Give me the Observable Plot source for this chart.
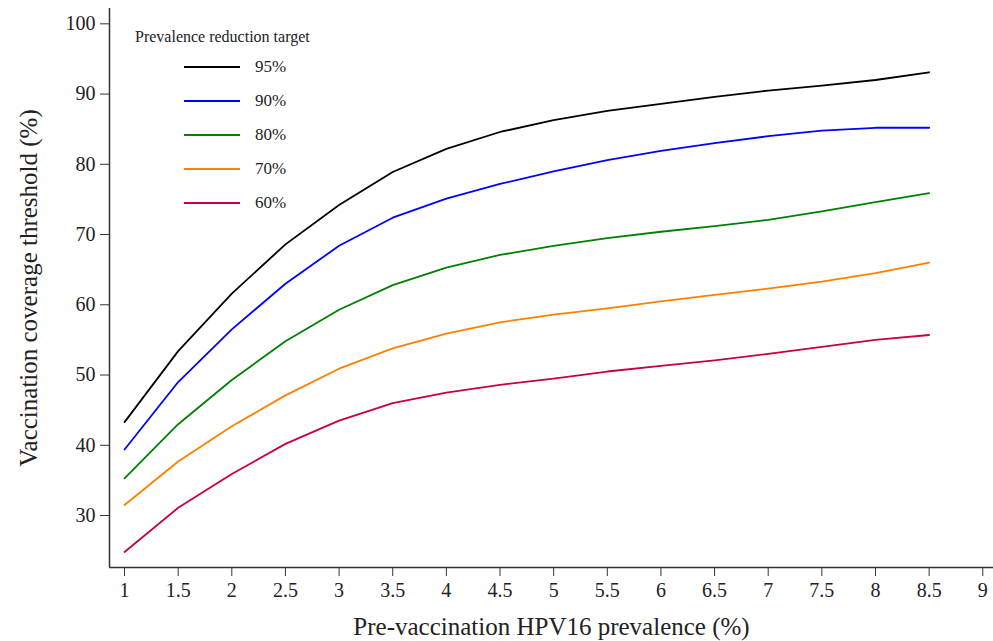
<!DOCTYPE html>
<html>
<head>
<meta charset="utf-8">
<script src="https://cdn.jsdelivr.net/npm/d3@7"></script>
<script src="https://cdn.jsdelivr.net/npm/@observablehq/plot@0.6"></script>
<style>
  html, body { margin: 0; padding: 0; background: #fff; }
  #wrap { position: relative; width: 993px; height: 641px; font-family: "Liberation Serif", "DejaVu Serif", serif; color: #222; }
  #wrap svg text { font-family: "Liberation Serif", "DejaVu Serif", serif; }
  #legend { position: absolute; left: 135px; top: 28px; font-size: 16px; }
  #legend .title { position: absolute; left: 0; top: 0; white-space: nowrap; }
  #legend .row { position: absolute; left: 49px; white-space: nowrap; height: 20px; }
  #legend .row svg { position: absolute; left: 0; top: 0; }
  #legend .row span { position: absolute; left: 71px; top: 0; line-height: 20px; font-size: 17px; }
</style>
</head>
<body>
<div id="wrap"></div>
<script>
// Pre-vaccination HPV16 prevalence (%)
const prevalence = [1, 1.5, 2, 2.5, 3, 3.5, 4, 4.5, 5, 5.5, 6, 6.5, 7, 7.5, 8, 8.5];
// Vaccination coverage threshold (%) per prevalence reduction target
const target95 = [43.3, 53.4, 61.6, 68.6, 74.2, 78.9, 82.2, 84.6, 86.3, 87.6, 88.6, 89.6, 90.5, 91.2, 92.0, 93.1];
const target90 = [39.4, 49.0, 56.5, 63.0, 68.4, 72.4, 75.1, 77.2, 79.0, 80.6, 81.9, 83.0, 84.0, 84.8, 85.2, 85.2];
const target80 = [35.3, 43.0, 49.3, 54.8, 59.3, 62.8, 65.3, 67.1, 68.4, 69.5, 70.4, 71.2, 72.1, 73.3, 74.6, 75.9];
const target70 = [31.5, 37.7, 42.7, 47.1, 50.9, 53.8, 55.9, 57.5, 58.6, 59.5, 60.5, 61.4, 62.3, 63.3, 64.5, 66.0];
const target60 = [24.8, 31.1, 35.9, 40.2, 43.5, 46.0, 47.5, 48.6, 49.5, 50.5, 51.3, 52.1, 53.0, 54.0, 55.0, 55.7];

const seriesNames = ["95%", "90%", "80%", "70%", "60%"];
const seriesColors = ["#000000", "#0000ff", "#008000", "#ff8000", "#c8003c"];
const seriesValues = [target95, target90, target80, target70, target60];

const xTicks = [1, 1.5, 2, 2.5, 3, 3.5, 4, 4.5, 5, 5.5, 6, 6.5, 7, 7.5, 8, 8.5, 9];
const yTicks = [30, 40, 50, 60, 70, 80, 90, 100];
const xLabel = "Pre-vaccination HPV16 prevalence (%)";
const yLabel = "Vaccination coverage threshold (%)";

const rows = [];
seriesNames.forEach((name, i) => {
  prevalence.forEach((p, j) => rows.push({series: name, prevalence: p, coverage: seriesValues[i][j]}));
});

const xDomain = [0.86, 9.1];
const yDomain = [22.6, 102.18];
const serif = '"Liberation Serif", "DejaVu Serif", serif';

const chart = Plot.plot({
  width: 993,
  height: 641,
  marginLeft: 109,
  marginRight: 0,
  marginTop: 8,
  marginBottom: 74,
  style: `font-family: ${serif}; background: #fff; color: #222;`,
  x: { domain: xDomain },
  y: { domain: yDomain },
  color: { domain: seriesNames, range: seriesColors },
  marks: [
    Plot.axisX({ ticks: xTicks, tickSize: 9, tickPadding: 6, fontSize: 20, tickFormat: d => String(d),
      label: null, stroke: "#333", fontFamily: serif }),
    Plot.axisY({ ticks: yTicks, tickSize: 9, tickPadding: 5, fontSize: 20,
      label: null, stroke: "#333", fontFamily: serif }),
    Plot.text([xLabel], { frameAnchor: "bottom", dy: 67, fontSize: 25, fontFamily: serif, fill: "#222" }),
    Plot.text([yLabel], { frameAnchor: "left", dx: -81, rotate: -90, textAnchor: "middle", fontSize: 25, fontFamily: serif, fill: "#222" }),
    Plot.ruleX([xDomain[0]], { stroke: "#333", strokeWidth: 1.5 }),
    Plot.ruleY([yDomain[0]], { stroke: "#333", strokeWidth: 1.5 }),
    Plot.line(rows, { x: "prevalence", y: "coverage", z: "series", stroke: "series", strokeWidth: 1.8 })
  ]
});

const wrap = document.getElementById("wrap");
wrap.appendChild(chart);

// Legend
const legend = document.createElement("div");
legend.id = "legend";
const title = document.createElement("div");
title.className = "title";
title.textContent = "Prevalence reduction target";
legend.appendChild(title);
seriesNames.forEach((name, i) => {
  const row = document.createElement("div");
  row.className = "row";
  row.style.top = (29 + i * 34) + "px";
  row.innerHTML = `<svg width="56" height="20"><line x1="0" x2="56" y1="10" y2="10" stroke="${seriesColors[i]}" stroke-width="1.8"/></svg><span>${name}</span>`;
  legend.appendChild(row);
});
wrap.appendChild(legend);
</script>
</body>
</html>
